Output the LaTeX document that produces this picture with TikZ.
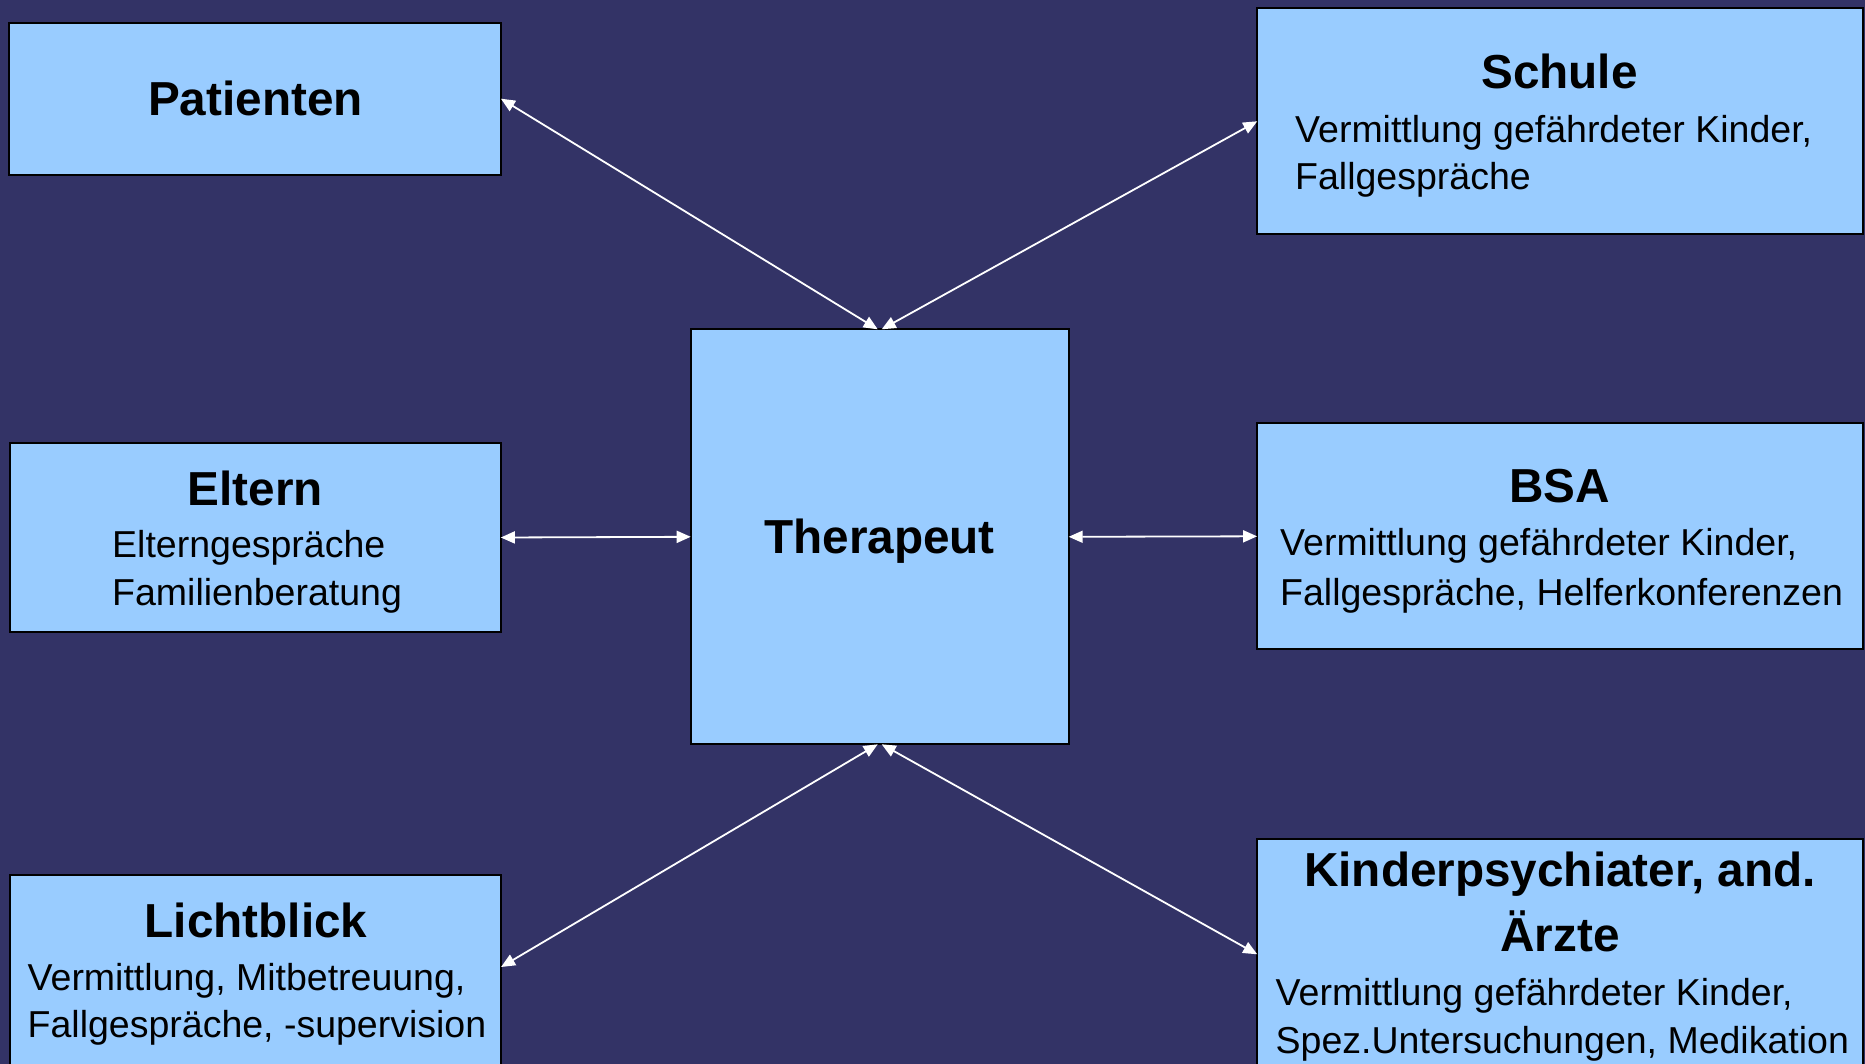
\documentclass[tikz,border=0pt]{standalone}
\usepackage{fontspec}
\setmainfont{Liberation Sans}
\usetikzlibrary{arrows.meta}
\definecolor{bg}{RGB}{51,51,102}
\definecolor{boxfill}{RGB}{153,204,255}
\begin{document}
\begin{tikzpicture}[x=1pt,y=-1pt,
  box/.style={draw=black, line width=2pt, fill=boxfill, inner sep=0pt, outer sep=0pt},
  ttl/.style={font=\fontsize{47.7}{57}\selectfont\bfseries, anchor=base, inner sep=0pt, text=black},
  body/.style={font=\fontsize{37.5}{48}\selectfont, anchor=base west, inner sep=0pt, text=black},
  link/.style={draw=white, line width=1.8pt, {Triangle[length=14pt,width=12pt]}-{Triangle[length=14pt,width=12pt]}}
]
\fill[bg] (0,0) rectangle (1865,1064);
\useasboundingbox (0,0) rectangle (1865,1064);
\clip (0,0) rectangle (1865,1064);

% boxes
\node[box, minimum width=491.5pt, minimum height=152pt] (pat) at (255.2,98.7) {};
\node[box, minimum width=605.4pt, minimum height=226pt] (schule) at (1559.9,121.3) {};
\node[box, minimum width=378pt, minimum height=415pt] (ther) at (879.7,536.8) {};
\node[box, minimum width=491pt, minimum height=188.4pt] (eltern) at (255.3,537.5) {};
\node[box, minimum width=605.4pt, minimum height=226pt] (bsa) at (1559.8,536.3) {};
\node[box, minimum width=491.3pt, minimum height=195pt] (licht) at (255.4,972.5) {};
\node[box, minimum width=605.3pt, minimum height=231.3pt] (kinder) at (1559.9,954.3) {};

% texts
\node[ttl] (tpat) at (255.5,115.5) {Patienten};
\node[ttl] (tschule) at (1559.5,89) {Schule};
\node[body] (bschule1) at (1295,143) {Vermittlung gefährdeter Kinder,};
\node[body] (bschule2) at (1295,190) {Fallgespräche};
\node[ttl] (tther) at (879.5,553.5) {Therapeut};
\node[ttl] (teltern) at (255.5,505) {Eltern};
\node[body] (beltern1) at (112,557) {Elterngespräche};
\node[body] (beltern2) at (112,605) {Familienberatung};
\node[ttl] (tbsa) at (1559.8,502.5) {BSA};
\node[body] (bbsa1) at (1280,555) {Vermittlung gefährdeter Kinder,};
\node[body] (bbsa2) at (1280,605) {Fallgespräche, Helferkonferenzen};
\node[ttl] (tlicht) at (256,937) {Lichtblick};
\node[body] (blicht1) at (27.5,990) {Vermittlung, Mitbetreuung,};
\node[body] (blicht2) at (27.5,1037.5) {Fallgespräche, -supervision};
\node[ttl] (tkinder1) at (1560,886.5) {Kinderpsychiater, and.};
\node[ttl] (tkinder2) at (1560,951.5) {Ärzte};
\node[body] (bkinder1) at (1275.5,1005) {Vermittlung gefährdeter Kinder,};
\node[body] (bkinder2) at (1275.5,1053) {Spez.Untersuchungen, Medikation};

% connectors
\draw[link] (pat.east) -- ([xshift=-2pt]ther.north);
\draw[link] (schule.west) -- ([xshift=2pt]ther.north);
\draw[link] (eltern.east) -- (ther.west);
\draw[link] (bsa.west) -- (ther.east);
\draw[link] ([yshift=5.5pt]licht.east) -- ([xshift=-2pt]ther.south);
\draw[link] (kinder.west) -- ([xshift=2pt]ther.south);
\end{tikzpicture}
\end{document}
